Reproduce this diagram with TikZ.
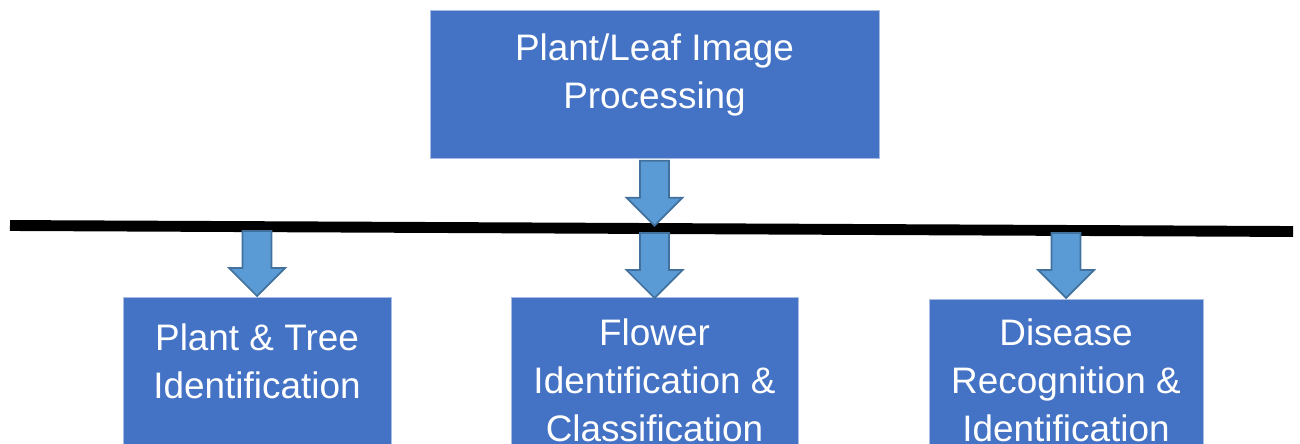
\documentclass[tikz,border=0pt]{standalone}
\usepackage{fontspec}
\setmainfont{Liberation Sans}
\usepackage{tikz}
\usetikzlibrary{positioning, calc}
\definecolor{boxBlue}{HTML}{4472C4}
\definecolor{boxEdge}{HTML}{A9BCE4}
\definecolor{arrFill}{HTML}{5B9BD5}
\definecolor{arrEdge}{HTML}{41719C}
\tikzset{
  catBox/.style={rectangle, anchor=north, draw=boxEdge, line width=0.4pt, fill=boxBlue, inner sep=0pt},
  catText/.style={align=center, text=white, inner sep=0pt, font=\fontsize{21}{27.3}\selectfont},
  blockArr/.style={fill=arrFill, draw=arrEdge, line width=1pt, line join=miter},
  splitLine/.style={line width=6.2pt, black},
  pics/downArr/.style={code={
    \draw[blockArr] (-14.5,0) -- (14.5,0) -- (14.5,37) -- (28,37) -- (0,65)
                    -- (-28,37) -- (-14.5,37) -- cycle;
  }},
}
\begin{document}
\begin{tikzpicture}[x=0.02cm, y=-0.02cm]
\useasboundingbox (0,0) rectangle (1300,443);

% boxes
\node (proc) [catBox, minimum width=8.98cm, minimum height=2.96cm] at (654.5,10) {};
\node (tree) [catBox, minimum width=5.36cm, minimum height=3.4cm] at (257,297) {};
\node (flower) [catBox, minimum width=5.74cm, minimum height=3.4cm] at (654.5,297) {};
\node (disease) [catBox, minimum width=5.48cm, minimum height=3.4cm] at (1066,299) {};

% box texts
\node (procTxt) [catText, below=0.46cm of proc.north] {Plant/Leaf Image\\Processing};
\node (treeTxt) [catText, below=0.52cm of tree.north] {Plant \& Tree\\Identification};
\node (flowerTxt) [catText, below=0.42cm of flower.north] {Flower\\Identification \&\\Classification};
\node (diseaseTxt) [catText, below=0.38cm of disease.north] {Disease\\Recognition \&\\Identification};

% horizontal divider
\coordinate (lineL) at (10,225.5);
\coordinate (lineR) at (1293,231.5);
\draw[splitLine] (lineL) -- (lineR);

% block arrows
\pic at ($(proc.south)+(0,2)$) {downArr};
\pic at ($(tree.north)+(0,-66)$) {downArr};
\pic at ($(flower.north)+(0,-64)$) {downArr};
\pic at ($(disease.north)+(0,-66)$) {downArr};
\end{tikzpicture}
\end{document}
